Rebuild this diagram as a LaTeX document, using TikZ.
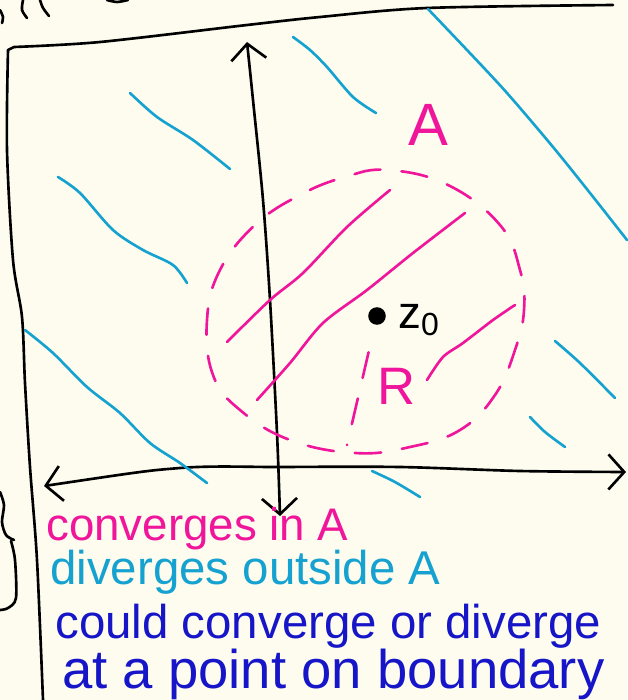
\documentclass[tikz,border=0pt]{standalone}
\usepackage{fontspec}
\setmainfont{Liberation Sans}
\usetikzlibrary{arrows.meta}
\definecolor{paper}{RGB}{253,252,238}
\definecolor{inkpink}{RGB}{240,22,155}
\definecolor{inkcyan}{RGB}{22,162,208}
\definecolor{inkblue}{RGB}{22,22,200}
\tikzset{
  pen/.style={line width=1.5pt, line cap=round, line join=round},
  axis/.style={pen, {Straight Barb[length=9pt,width=20pt]}-{Straight Barb[length=9pt,width=20pt]}},
  hatch/.style={pen, inkcyan},
  shade/.style={pen, inkpink},
  rim/.style={pen, inkpink, dash pattern=on 15pt off 12pt},
  note/.style={anchor=base west, inner sep=0pt, font=\fontsize{26}{30}\selectfont},
}

\begin{document}
\begin{tikzpicture}[x=0.02cm, y=-0.02cm]
  \fill[paper] (0,0) rectangle (627,700);
  \useasboundingbox (0,0) rectangle (627,700);

  % bits of the sketch above, cut off by the page
  \draw[pen] plot[smooth] coordinates {(0,10) (3,17) (2,23)};
  \draw[pen] plot[smooth] coordinates {(23,0) (22,10) (27,18)};
  \draw[pen] plot[smooth] coordinates {(40,0) (43,8) (49,16)};
  \draw[pen] plot[smooth] coordinates {(107,0) (117,2) (128,0)};
  \draw[pen] plot[smooth] coordinates {(0,492) (4,505) (2,522) (6,535) (14,540)};
  \draw[pen] plot[smooth] coordinates {(11,541) (15,560) (16,598) (8,608) (0,610)};

  % the plane
  \draw[pen] plot[smooth] coordinates {(43,700) (37,560) (30,467) (25,383) (22,317) (13,260) (7,150) (8,50)}
    -- (14,47) plot[smooth] coordinates {(14,47) (100,42) (247,25) (320,17) (427,8) (613,5)};
  \draw[axis] plot[smooth] coordinates {(247,42) (253,100) (263,200) (270,300) (277,433) (280,516)};
  \draw[axis] plot[smooth] coordinates {(44,486) (180,468) (280,467) (400,467) (520,471) (626,472)};

  % outside A
  \draw[hatch] plot[smooth] coordinates {(130,93) (157,117) (193,140) (230,169)};
  \draw[hatch] plot[smooth] coordinates {(293,37) (310,50) (327,67) (353,97) (376,113)};
  \draw[hatch] plot[smooth] coordinates {(428,9) (467,50) (507,93) (553,147) (590,193) (627,240)};
  \draw[hatch] plot[smooth] coordinates {(58,177) (80,193) (113,230) (143,250) (173,265) (187,283)};
  \draw[hatch] plot[smooth] coordinates {(25,330) (53,353) (87,387) (120,413) (150,443) (180,463) (207,483)};
  \draw[hatch] plot[smooth] coordinates {(555,341) (580,363) (615,398)};
  \draw[hatch] plot[smooth] coordinates {(530,417) (545,432) (565,447)};
  \draw[hatch] plot[smooth] coordinates {(372,471) (395,482) (420,497)};

  % inside A
  \draw[shade] plot[smooth] coordinates {(390,190) (347,227) (303,273) (270,300) (227,342)};
  \draw[shade] plot[smooth] coordinates {(465,213) (413,253) (367,290) (323,323) (290,363) (257,400)};
  \draw[shade] plot[smooth] coordinates {(515,305) (493,320) (463,343) (443,357) (427,380)};
  \draw[rim] plot[smooth cycle, tension=0.7] coordinates {(388,170) (448,185) (500,225) (520,270)
    (524,310) (515,350) (495,395) (460,430) (410,447) (355,453) (290,440) (240,410) (213,375)
    (207,320) (220,270) (255,225) (300,195) (345,177)};

  \node[circle, fill=black, inner sep=0pt, minimum size=10pt] (centre) at (377,316) {};
  \node[anchor=west, inner sep=0pt, font=\fontsize{26}{26}\selectfont] (zlab) at (398,320) {z\textsubscript{0}};
  \coordinate (redge) at (347,445);
  \draw[rim, shorten <=16pt] (centre) -- (redge);
  \node[text=inkpink, font=\fontsize{30}{30}\selectfont] (rad) at (397,386) {R};
  \node[text=inkpink, font=\fontsize{34}{34}\selectfont] (regA) at (428,125) {A};

  % key
  \node[note, text=inkpink] (conv) at (46,540) {converges in A};
  \node[note, text=inkcyan, font=\fontsize{27}{30}\selectfont] (div) at (50,584) {diverges outside A};
  \node[note, text=inkblue, font=\fontsize{27}{30}\selectfont] (could) at (55,638) {could converge or diverge};
  \node[note, text=inkblue, font=\fontsize{31}{34}\selectfont] (atpt) at (62,688) {at a point on boundary};
\end{tikzpicture}
\end{document}
